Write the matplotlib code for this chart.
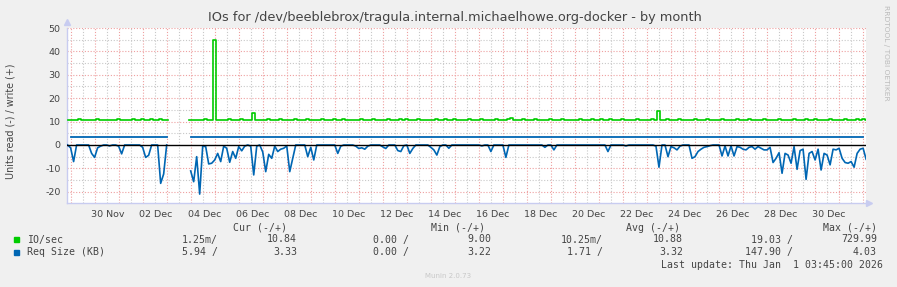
"""
Munin style chart: IOs for /dev/beeblebrox/tragula... by month
"""
import matplotlib
matplotlib.use('Agg')
import matplotlib.pyplot as plt
import matplotlib.dates as mdates
from matplotlib.patches import Rectangle
from matplotlib.transforms import ScaledTranslation
import numpy as np
import pandas as pd

BG_COLOR = '#f0f0f0'
GREEN = '#00cc00'
BLUE = '#0066b3'
MAJOR_GRID = '#eea0a0'
MINOR_GRID = '#c8c8c8'
AXIS_COLOR = '#c8ccf0'
TEXT_COLOR = '#444444'

W, H = 897, 287
nan = np.nan

# 3-hourly samples starting 27 Nov 21:00
io_write = [
    10.7, 10.7, 10.7, 10.7, 11.0, 10.8, 10.7, 10.7,
    10.7, 10.7, 10.9, 10.7, 10.7, 10.7, 10.7, 10.7,
    10.7, 11.0, 10.7, 10.7, 10.7, 10.7, 10.9, 10.7,
    10.7, 11.0, 10.7, 10.7, 10.9, 10.7, 10.7, 10.9,
    10.7, 10.7, nan, nan, nan, nan, nan, nan,
    nan, 10.7, 10.7, 10.7, 10.7, 10.7, 11.0, 10.7,
    10.8, 45.0, 10.8, 10.7, 10.7, 10.7, 10.9, 10.7,
    10.7, 10.7, 11.0, 10.7, 10.7, 10.7, 13.5, 10.7,
    10.7, 10.7, 10.7, 10.9, 10.7, 10.7, 10.7, 11.0,
    10.7, 10.7, 10.7, 10.7, 10.9, 10.7, 10.7, 10.7,
    11.0, 10.7, 10.7, 10.7, 10.7, 10.9, 10.7, 10.7,
    10.7, 10.9, 10.7, 10.7, 11.0, 10.7, 10.7, 10.7,
    10.7, 10.7, 10.9, 10.7, 10.7, 10.7, 11.0, 10.7,
    10.7, 10.7, 10.7, 10.9, 10.7, 10.7, 10.7, 10.9,
    10.7, 11.0, 10.7, 10.7, 10.7, 10.9, 10.7, 10.7,
    10.7, 10.7, 10.7, 11.0, 10.7, 10.7, 10.9, 10.7,
    10.7, 10.9, 10.7, 10.7, 10.7, 10.7, 11.0, 10.7,
    10.7, 10.7, 10.9, 10.7, 10.7, 10.7, 10.7, 10.9,
    10.7, 10.7, 10.7, 10.9, 11.5, 10.7, 10.7, 10.7,
    11.0, 10.7, 10.7, 10.7, 10.9, 10.7, 10.7, 10.7,
    10.7, 10.9, 10.7, 10.7, 10.7, 11.0, 10.7, 10.7,
    10.7, 10.7, 10.7, 10.9, 10.7, 10.7, 10.7, 10.9,
    10.7, 10.7, 11.0, 10.7, 10.7, 10.9, 10.7, 10.7,
    10.7, 10.9, 10.7, 10.7, 10.7, 10.7, 11.0, 10.7,
    10.7, 10.7, 10.7, 10.9, 10.7, 14.5, 10.7, 10.7,
    11.0, 10.7, 10.7, 10.7, 10.9, 10.7, 10.7, 10.7,
    10.7, 10.9, 10.7, 10.7, 10.7, 11.0, 10.7, 10.7,
    10.7, 10.7, 10.9, 10.7, 10.7, 10.7, 10.7, 10.9,
    10.7, 10.7, 10.7, 11.0, 10.7, 10.7, 10.7, 10.7,
    10.9, 10.7, 10.7, 10.7, 10.7, 10.9, 10.7, 10.7,
    10.7, 10.7, 11.0, 10.7, 10.7, 10.7, 10.9, 10.7,
    10.7, 10.9, 10.7, 10.7, 10.7, 10.7, 11.0, 10.7,
    10.7, 10.7, 10.7, 10.9, 10.7, 10.7, 10.7, 10.9,
    10.7, 11.0, 10.8,
]

# Req Size (KB) read side, drawn negative, same 3-hourly samples
req_read = [
    0, -1.2, -7.1, 0, 0, 0, 0, 0,
    -3.6, -5.3, -1.2, -0.5, 0, 0, -0.4, 0,
    0, -0.5, -3.8, 0, 0, 0, 0, 0,
    0, -1.0, -5.3, -4.4, 0, 0, 0, -16.4,
    -12.4, 0, nan, nan, nan, nan, nan, nan,
    nan, -11.1, -15.7, -5.0, -21.0, -0.5, -0.7, -8.1,
    -7.8, -6.4, -3.6, -7.1, -0.5, -1.4, -7.4, -2.8,
    -5.7, -0.7, -2.5, -0.5, 0, -0.5, -12.8, -0.5,
    0, -3.0, -11.4, -4.0, -5.7, -0.5, -2.8, -1.8,
    -1.4, -0.4, -11.4, -5.7, 0, 0, 0, 0,
    -5.0, -1.0, -6.4, 0, 0, 0, 0, 0,
    0, 0, -3.6, -0.5, 0, 0, 0, 0,
    -0.5, -1.5, -1.2, -1.8, -0.5, 0, 0, 0,
    0, -0.8, -1.5, 0, 0, 0, -2.4, -2.8,
    -0.3, 0, -3.6, -1.5, 0, 0, 0, 0,
    0, -1.0, -2.1, -4.3, -0.7, 0, 0, -1.4,
    0, 0, 0, 0, 0, 0, 0, 0,
    0, 0, -0.4, 0, 0, -2.8, 0, 0,
    0, 0, -5.3, 0, 0, 0, 0, 0,
    0, 0, 0, 0, 0, 0, 0, -1.0,
    0, 0, -2.1, 0, 0, 0, 0, 0,
    0, 0, 0, 0, 0, 0, 0, 0,
    0, 0, 0, 0, -2.8, 0, 0, 0,
    0, 0, -0.4, 0, 0, 0, 0, 0,
    0, 0, 0, 0, -0.5, -9.5, 0, 0,
    -5.0, -0.7, -1.2, -2.1, -0.5, 0, 0, 0,
    -5.7, -5.0, -2.8, -1.8, -1.0, -0.7, -0.3, 0,
    0, 0, -4.7, -0.4, -4.7, -0.4, -4.7, -0.7,
    -1.0, -1.8, -2.1, -1.0, -0.7, -1.8, -0.7, -1.4,
    -2.1, -2.1, -1.0, -7.5, -5.7, -3.3, -12.1, -3.6,
    -4.3, -7.8, -0.7, -10.4, -2.4, -1.8, -14.7, -3.6,
    -2.8, -6.4, -1.8, -10.7, -3.6, -4.3, -8.5, -1.8,
    -2.1, -1.4, -5.7, -7.5, -7.8, -7.1, -9.5, -3.6,
    -1.8, -1.4, -6.1,
]

# Req Size (KB) write side, one value per day from 28 Nov (no data on 02 Dec)
req_write = [3.3, 3.3, 3.3, 3.3, nan, 3.3, 3.3, 3.3, 3.3, 3.3, 3.3, 3.3,
             3.3, 3.3, 3.3, 3.3, 3.3, 3.3, 3.3, 3.3, 3.3, 3.3, 3.3, 3.3,
             3.3, 3.3, 3.3, 3.3, 3.3, 3.3, 3.3, 3.3, 3.3, 3.3]

y_ticks = [-20, -10, 0, 10, 20, 30, 40, 50]

legend_rows = [
    ('IO/sec', GREEN, ['1.25m/', '10.84', '0.00 /', '9.00', '10.25m/', '10.88', '19.03 /', '729.99']),
    ('Req Size (KB)', BLUE, ['5.94 /', '3.33', '0.00 /', '3.22', '1.71 /', '3.32', '147.90 /', '4.03']),
]
legend_headers = ['Cur (-/+)', 'Min (-/+)', 'Avg (-/+)', 'Max (-/+)']

plt.rcParams['axes.unicode_minus'] = False
plt.rcParams['font.family'] = ['DejaVu Sans']

fig = plt.figure(figsize=(W / 100, H / 100), dpi=100, facecolor=BG_COLOR)


def fx(x):
    return x / W


def fy(y):
    return 1 - y / H


# plot area: x 67..866 px, y 28..203 px
ax = fig.add_axes([fx(67), fy(203), fx(866 - 67), (203 - 28) / H])
ax.set_facecolor('white')

t3h = pd.date_range('2025-11-27 21:00', periods=len(io_write), freq='3h')
tday = pd.date_range('2025-11-28', periods=len(req_write), freq='D')

ax.set_xlim(pd.Timestamp('2025-11-27 20:24'), pd.Timestamp('2025-12-31 02:53'))
ax.set_ylim(-24.8, 50)

# grid lines
dots = (0, (1, 1.6))
for d in pd.date_range('2025-11-28 12:00', '2025-12-30 12:00', freq='D'):
    ax.axvline(d, color=MINOR_GRID, lw=0.8, ls=dots, zorder=1)
for d in pd.date_range('2025-11-28', '2025-12-31', freq='D'):
    ax.axvline(d, color=MAJOR_GRID, lw=0.8, ls=dots, zorder=1)
for v in [-15, -5, 5, 15, 25, 35, 45]:
    ax.axhline(v, color=MINOR_GRID, lw=0.8, ls=dots, zorder=1)
for v in [-20, -10, 10, 20, 30, 40, 50]:
    ax.axhline(v, color=MAJOR_GRID, lw=0.8, ls=dots, zorder=1)

# series
ax.plot(t3h, io_write, color=GREEN, lw=1.2, drawstyle='steps-mid', zorder=3)
ax.plot(tday, req_write, color=BLUE, lw=1.3, drawstyle='steps-post', zorder=3)
ax.plot(t3h, req_read, color=BLUE, lw=1.2, zorder=3)
ax.axhline(0, color='black', lw=1.0, zorder=4)

# axes styling
for side in ['top', 'right']:
    ax.spines[side].set_visible(False)
for side in ['left', 'bottom']:
    ax.spines[side].set_color(AXIS_COLOR)
    ax.spines[side].set_linewidth(1.0)
ax.plot([0], [1.035], marker='^', ms=4, color=AXIS_COLOR, transform=ax.transAxes, clip_on=False)
ax.plot([1.004], [0], marker='>', ms=4, color=AXIS_COLOR, transform=ax.transAxes, clip_on=False)

ax.set_yticks(y_ticks)
ax.set_xticks(pd.date_range('2025-11-30', '2025-12-30', freq='2D'))
ax.xaxis.set_major_formatter(mdates.DateFormatter('%d %b'))
ax.tick_params(axis='both', length=0, labelsize=6.8, colors=TEXT_COLOR)
ax.tick_params(axis='y', pad=4.5)
ax.tick_params(axis='x', pad=5)
# munin draws the day labels a little left of the midnight grid line
shift = ScaledTranslation(-10.5 / 100, 0, fig.dpi_scale_trans)
for lbl in ax.get_xticklabels():
    lbl.set_transform(lbl.get_transform() + shift)

# texts
fig.text(fx(455), fy(18), 'IOs for /dev/beeblebrox/tragula.internal.michaelhowe.org-docker - by month',
         ha='center', va='center', fontsize=9.3, color=TEXT_COLOR)
fig.text(fx(11), fy(121), 'Units read (-) / write (+)', rotation=90,
         ha='center', va='center', fontsize=6.9, color=TEXT_COLOR)
fig.text(fx(886), fy(5), 'RRDTOOL / TOBI OETIKER', rotation=270,
         ha='center', va='top', fontsize=5.4, color='#bbbbbb')

mono = dict(family='DejaVu Sans Mono', fontsize=7.1, color=TEXT_COLOR, va='center')
header_right = [287, 485, 680, 877]
for label, xr in zip(legend_headers, header_right):
    fig.text(fx(xr), fy(228), label, ha='right', **mono)

value_right = [218, 297, 409, 491, 603, 683, 793, 877]
for (name, color, vals), yrow in zip(legend_rows, [239.5, 252]):
    fig.patches.append(Rectangle((fx(14), fy(yrow + 2.5)), fx(5), 5 / H,
                                 transform=fig.transFigure, color=color))
    fig.text(fx(27), fy(yrow), name, ha='left', **mono)
    for v, xr in zip(vals, value_right):
        fig.text(fx(xr), fy(yrow), v, ha='right', **mono)

fig.text(fx(883), fy(264.5), 'Last update: Thu Jan  1 03:45:00 2026', ha='right', **mono)
fig.text(0.5, fy(276), 'Munin 2.0.73', ha='center', va='center', fontsize=5, color='#c8c8c8')

fig.savefig('out.png', dpi=100, facecolor=BG_COLOR)
plt.close(fig)
